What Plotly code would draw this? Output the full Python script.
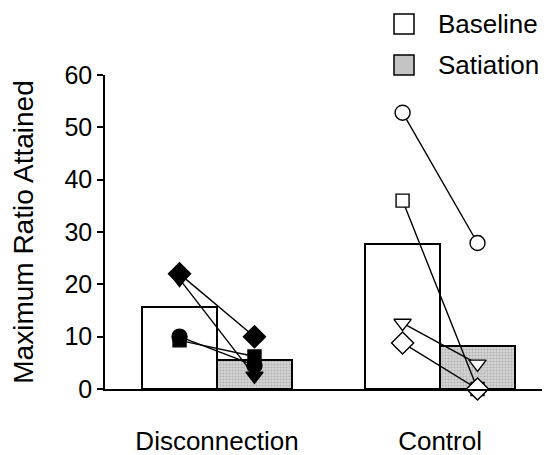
import plotly.graph_objects as go

groups = ["Disconnection", "Control"]
baseline_means = [15.7, 27.7]
satiation_means = [5.5, 8.2]
legend_labels = ["Baseline", "Satiation"]

# individual subjects
disc_symbols = ["diamond", "triangle-down", "circle", "square"]
disc_baseline = [22, 21, 10, 9.3]
disc_satiation = [10, 2.5, 4.5, 6.2]

ctrl_symbols = ["circle", "square", "triangle-down", "diamond"]
ctrl_baseline = [52.8, 36, 12.6, 8.8]
ctrl_satiation = [27.9, 0, 4.8, 0]

FONT = "Liberation Sans, Arial, sans-serif"
BW = 0.336
gx = [1, 2]
SAT_FILL = "#c4c4c4"
SIZES = {"diamond": 17, "circle": 15, "square": 13, "triangle-down": 15}

OFF = 8  # default page body margin
W, H = 550 - OFF, 455 - OFF
L, R, T, B = 105 - OFF, 2, 75 - OFF, 455 - 389

fig = go.Figure()
fig.add_trace(go.Bar(
    x=[g - BW / 2 for g in gx], y=baseline_means, width=BW, name=legend_labels[0],
    marker=dict(color="white", line=dict(color="black", width=2)),
    showlegend=False,
))
fig.add_trace(go.Bar(
    x=[g + BW / 2 for g in gx], y=satiation_means, width=BW, name=legend_labels[1],
    marker=dict(color=SAT_FILL, line=dict(color="black", width=2),
                pattern=dict(shape=".", fgcolor="#8a8a8a", bgcolor="#d6d6d6",
                             size=3, solidity=0.4, fillmode="overlay")),
    showlegend=False,
))

def add_subjects(g, symbols, base, sat, filled):
    for s, b, t in zip(symbols, base, sat):
        fig.add_trace(go.Scatter(
            x=[g - BW / 2, g + BW / 2], y=[b, t], mode="lines+markers",
            line=dict(color="black", width=1.4),
            marker=dict(symbol=s, size=SIZES[s],
                        color="black" if filled else "white",
                        line=dict(color="black", width=1.4)),
            showlegend=False, cliponaxis=False,
        ))

add_subjects(1, disc_symbols, disc_baseline, disc_satiation, True)
add_subjects(2, ctrl_symbols, ctrl_baseline, ctrl_satiation, False)

# legend drawn as paper-space swatches + labels (positions in page pixels)
pw, ph = W - L - R, H - T - B
def px(x): return (x - OFF - L) / pw
def py(y): return (H - B - (y - OFF)) / ph

leg_fill = ["white", SAT_FILL]
leg_y = [24, 65]
for lab, fc, cy in zip(legend_labels, leg_fill, leg_y):
    fig.add_shape(type="rect", xref="paper", yref="paper",
                  x0=px(394), x1=px(414), y0=py(cy + 10), y1=py(cy - 10),
                  fillcolor=fc, line=dict(color="black", width=1.5))
    fig.add_annotation(text=lab, xref="paper", yref="paper", x=px(436), y=py(cy),
                       xanchor="left", yanchor="middle", showarrow=False,
                       font=dict(size=26))

fig.update_layout(
    width=W, height=H,
    margin=dict(l=L, r=R, t=T, b=B),
    paper_bgcolor="white", plot_bgcolor="white",
    font=dict(family=FONT, size=25, color="black"),
    barmode="overlay", bargap=0, showlegend=False,
    xaxis=dict(range=[0.4978, 2.484], tickvals=gx, ticktext=groups,
               tickfont=dict(size=26),
               showline=True, linecolor="black", linewidth=1.5,
               ticks="", ticklabelstandoff=28, showgrid=False, zeroline=False,
               automargin=False),
    yaxis=dict(range=[0, 60], tickvals=[0, 10, 20, 30, 40, 50, 60],
               showline=True, linecolor="black", linewidth=1.5,
               ticks="outside", ticklen=6, tickcolor="black", tickwidth=1.5,
               showgrid=False, zeroline=False, automargin=False,
               title=dict(text="Maximum Ratio Attained", standoff=29,
                          font=dict(size=28))),
)

fig.write_html("out.html")
